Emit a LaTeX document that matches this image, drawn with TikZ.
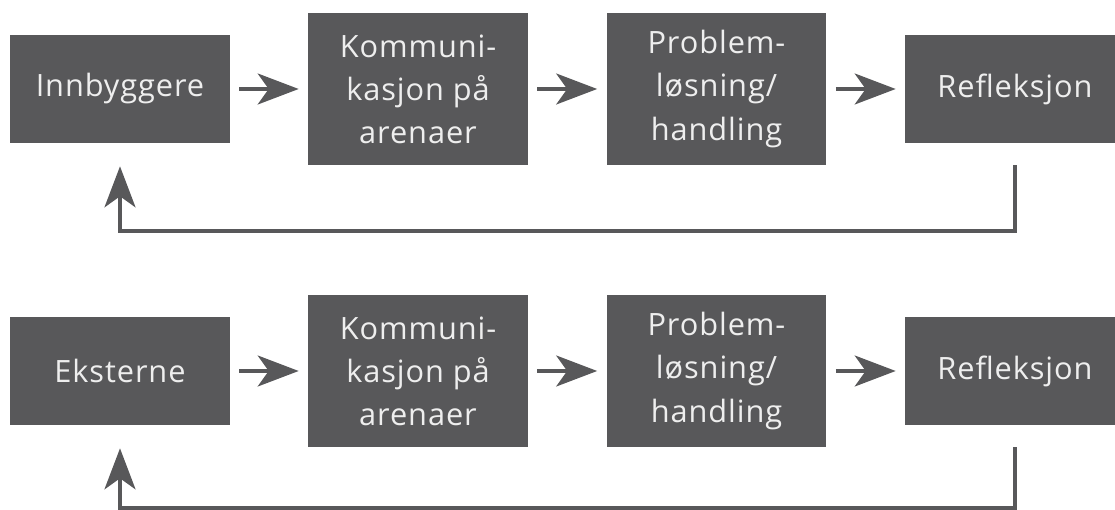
\documentclass[tikz,border=0pt]{standalone}
\usepackage{fontspec}
\setmainfont{Open Sans}[LetterSpace=3]
\usepackage{tikz}
\usetikzlibrary{arrows.meta}

\definecolor{boxgray}{HTML}{58585A}
\definecolor{txtgray}{HTML}{EEEEEE}

\begin{document}
\begin{tikzpicture}[x=0.02cm, y=0.02cm,
  box/.style={fill=boxgray, text=txtgray, inner sep=0pt, align=center,
    minimum width=4.4cm, minimum height=2.16cm,
    font=\fontsize{17.5}{24.5}\selectfont},
  tallbox/.style={box, minimum height=3.04cm},
  flow/.style={draw=boxgray, line width=1.8pt,
    -{Stealth[length=0.82cm, width=0.62cm, inset=0.22cm]}},
  gap/.style={shorten <=0.18cm, shorten >=0.18cm},
  back/.style={shorten <=0.44cm, shorten >=0.46cm}]

\clip (0, 0) rectangle (1115, 510);

% upper loop
\node[box] (inn) at (120, 421) {Innbyggere};
\node[tallbox] (komm1) at (418, 421) {Kommuni-\\kasjon på\\arenaer};
\node[tallbox] (prob1) at (716.5, 421) {Problem-\\løsning/\\handling};
\node[box] (refl1) at (1015, 421) {Refleksjon};

\draw[flow, gap] (inn) -- (komm1);
\draw[flow, gap] (komm1) -- (prob1);
\draw[flow, gap] (prob1) -- (refl1);
\draw[flow, back] (refl1.south) |- (120, 279) -| (inn.south);

% lower loop
\node[box] (ext) at (120, 139) {Eksterne};
\node[tallbox] (komm2) at (418, 139) {Kommuni-\\kasjon på\\arenaer};
\node[tallbox] (prob2) at (716.5, 139) {Problem-\\løsning/\\handling};
\node[box] (refl2) at (1015, 139) {Refleksjon};

\draw[flow, gap] (ext) -- (komm2);
\draw[flow, gap] (komm2) -- (prob2);
\draw[flow, gap] (prob2) -- (refl2);
\draw[flow, back] (refl2.south) |- (120, 2) -| (ext.south);

\end{tikzpicture}
\end{document}
